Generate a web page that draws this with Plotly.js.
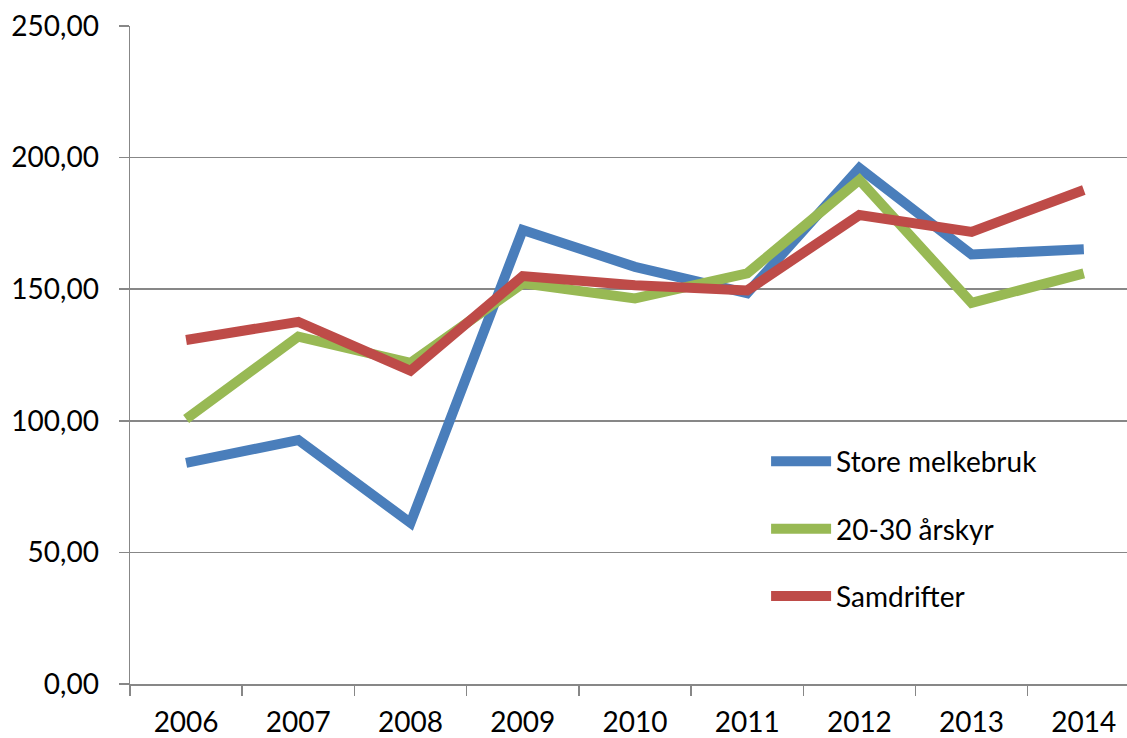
<!DOCTYPE html>
<html>
<head>
<meta charset="utf-8">
<script src="https://cdn.plot.ly/plotly-3.0.1.min.js"></script>
<style>html,body{margin:0;padding:0;background:#fff;}#chart{width:1127px;height:738px;}</style>
</head>
<body>
<div id="chart"></div>
<script>
const years = ["2006","2007","2008","2009","2010","2011","2012","2013","2014"];
const storeMelkebruk = [84.0, 92.7, 61.2, 172.5, 158.5, 148.5, 196.0, 163.2, 165.2];
const aarskyr2030 = [100.7, 132.0, 122.0, 152.2, 146.5, 156.0, 191.5, 144.8, 156.0];
const samdrifter = [130.7, 137.6, 119.0, 155.0, 151.5, 149.5, 178.2, 171.8, 187.7];
const seriesNames = ["Store melkebruk", "20-30 årskyr", "Samdrifter"];
const colors = ["#4A7EBB", "#98B954", "#BE4B48"];

const series = [storeMelkebruk, aarskyr2030, samdrifter];
const traces = series.map((vals, i) => ({
  x: years,
  y: vals,
  type: "scatter",
  mode: "lines",
  name: seriesNames[i],
  legendgroup: "g" + i,
  line: {color: colors[i], width: 10},
  hoverinfo: "x+y+name"
}));

const font = {family: "Lato, 'Open Sans', sans-serif", size: 28, color: "#000"};
const layout = {
  width: 1127,
  height: 738,
  margin: {l: 130, r: 0, t: 26, b: 54},
  paper_bgcolor: "#fff",
  plot_bgcolor: "#fff",
  separators: ", ",
  font: font,
  showlegend: true,
  legend: {
    x: 0.638, y: 0.376, xanchor: "left", yanchor: "top",
    font: font,
    bgcolor: "rgba(0,0,0,0)",
    tracegroupgap: 28,
    itemwidth: 60,
    traceorder: "grouped"
  },
  xaxis: {
    type: "category",
    range: [-0.5, 8.385],
    tickson: "boundaries",
    ticks: "outside",
    ticklen: 10,
    tickcolor: "#878787",
    tickwidth: 1.5,
    showline: true,
    linecolor: "#878787",
    linewidth: 1.5,
    showgrid: false,
    zeroline: false,
    tickfont: font,
    ticklabelstandoff: 13,
    fixedrange: true
  },
  yaxis: {
    range: [0, 250],
    dtick: 50,
    tick0: 0,
    tickformat: ".2f",
    ticks: "outside",
    ticklen: 10,
    tickcolor: "#878787",
    tickwidth: 1.5,
    showline: true,
    linecolor: "#878787",
    linewidth: 1.5,
    showgrid: true,
    gridcolor: "#878787",
    gridwidth: 1.5,
    zeroline: false,
    tickfont: font,
    ticklabelstandoff: 14,
    fixedrange: true
  }
};

Plotly.newPlot("chart", traces, layout, {displayModeBar: false, staticPlot: true});
</script>
</body>
</html>
